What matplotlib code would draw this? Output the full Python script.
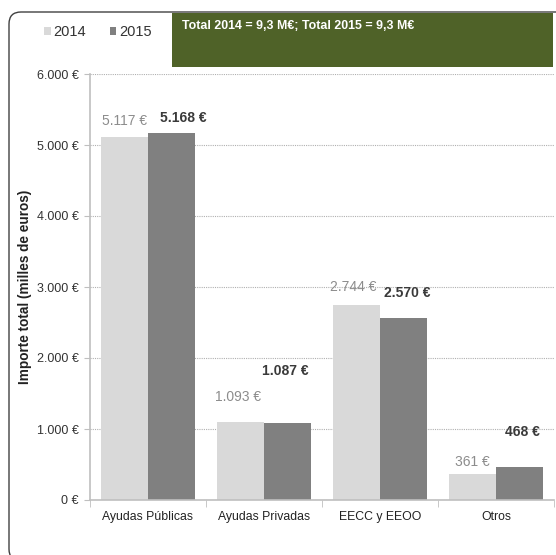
import numpy as np
import matplotlib
matplotlib.use("Agg")
import matplotlib.pyplot as plt
from matplotlib.patches import FancyBboxPatch, Rectangle

plt.rcParams['font.family'] = ['Liberation Sans', 'DejaVu Sans']

categorias = ['Ayudas Públicas', 'Ayudas Privadas', 'EECC y EEOO', 'Otros']
v2014 = [5117, 1093, 2744, 361]
v2015 = [5168, 1087, 2570, 468]
etiq2014 = ['5.117 €', '1.093 €', '2.744 €', '361 €']
etiq2015 = ['5.168 €', '1.087 €', '2.570 €', '468 €']
yticks = [0, 1000, 2000, 3000, 4000, 5000, 6000]
ytick_labels = ['0 €', '1.000 €', '2.000 €', '3.000 €', '4.000 €', '5.000 €', '6.000 €']
titulo = 'Total 2014 = 9,3 M€; Total 2015 = 9,3 M€'

# desplazamiento de las etiquetas respecto a la barra (en puntos)
dx2014 = [0, -1.5, -2, 0]
dy2014 = [11, 18, 13, 9]
dx2015 = [8.5, -1.5, 3, 2]
dy2015 = [11, 37, 18, 25]

c14 = '#d9d9d9'
c15 = '#808080'

fig = plt.figure(figsize=(5.56, 5.55), dpi=100)

# marco redondeado (se sale por la derecha y por abajo)
marco = FancyBboxPatch((0.09, -0.06), 6.0, 5.49,
                       boxstyle="round,pad=0,rounding_size=0.12",
                       transform=fig.dpi_scale_trans, facecolor='none',
                       edgecolor='#404040', linewidth=1.0, zorder=0)
fig.patches.append(marco)

# recuadro verde
caja = Rectangle((172/556, 1 - 67/555), (553 - 172)/556, 54/555, transform=fig.transFigure,
                 facecolor='#4f6228', edgecolor='none', zorder=1)
fig.patches.append(caja)
fig.text(182/556, 1 - 26/555, titulo, color='white', fontsize=8.9, fontweight='bold',
         va='center', ha='left')

ax = fig.add_axes([90/556, 1 - 500/555, 464/556, 426/555])
ax.set_facecolor('none')
ax.set_zorder(3)

x = np.arange(len(categorias))
w = 0.405
b1 = ax.bar(x - w/2, v2014, w, color=c14, label='2014', zorder=2)
b2 = ax.bar(x + w/2, v2015, w, color=c15, label='2015', zorder=2)

for i in range(len(categorias)):
    ax.annotate(etiq2014[i], (x[i] - w/2, v2014[i]), xytext=(dx2014[i], dy2014[i]),
                textcoords='offset points', ha='center', va='center',
                fontsize=10, color='#8c8c8c')
    ax.annotate(etiq2015[i], (x[i] + w/2, v2015[i]), xytext=(dx2015[i], dy2015[i]),
                textcoords='offset points', ha='center', va='center',
                fontsize=10, color='#3a3a3a', fontweight='bold')

ax.set_xlim(-0.5, len(categorias) - 0.5)
ax.set_ylim(0, 6000)
ax.set_yticks(yticks)
ax.set_yticklabels(ytick_labels)
ax.set_xticks(x)
ax.set_xticklabels(categorias)
ax.set_xticks(np.arange(len(categorias) + 1) - 0.5, minor=True)
ax.tick_params(axis='x', which='major', length=0, labelsize=8.8, colors='#222222', pad=8)
ax.tick_params(axis='x', which='minor', length=5, color='#bfbfbf')
ax.tick_params(axis='y', length=4, color='#bfbfbf', labelsize=9, labelcolor='#333333', pad=4)
ax.grid(axis='y', linestyle=(0, (1, 1)), color='#b0b0b0', linewidth=0.8, zorder=0)
for s in ['top', 'right']:
    ax.spines[s].set_visible(False)
ax.spines['left'].set_color('#bfbfbf')
ax.spines['bottom'].set_color('#bfbfbf')
ax.spines['left'].set_linewidth(1.2)
ax.spines['bottom'].set_linewidth(1.2)

ax.set_ylabel('Importe total (milles de euros)', fontsize=9.8, fontweight='bold',
              color='#222222')
ax.yaxis.set_label_coords(-58/464, 0.5)

fig.legend(handles=[b1, b2], labels=['2014', '2015'], loc='center left',
           bbox_to_anchor=(31/556, 1 - 32/555), ncol=2, frameon=False,
           handlelength=0.45, handleheight=0.45, handletextpad=0.2,
           columnspacing=1.6, fontsize=10.5, labelcolor='#333333')

fig.savefig('out.png', dpi=100)
